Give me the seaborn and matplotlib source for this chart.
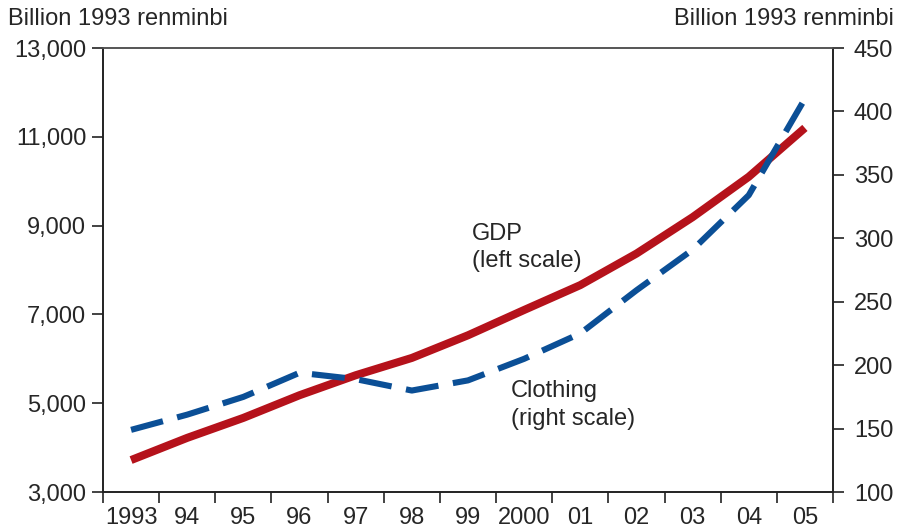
import numpy as np
import pandas as pd
import matplotlib
matplotlib.use("Agg")
import matplotlib.pyplot as plt
import seaborn as sns

# data
years = [1993, 1994, 1995, 1996, 1997, 1998, 1999, 2000, 2001, 2002, 2003, 2004, 2005]
year_labels = ["1993", "94", "95", "96", "97", "98", "99", "2000", "01", "02", "03", "04", "05"]
gdp = [3720, 4220, 4670, 5180, 5630, 6020, 6530, 7100, 7660, 8370, 9190, 10100, 11200]
clothing = [149, 161, 175, 194, 189, 180, 188, 205, 225, 259, 291, 334, 410]

df = pd.DataFrame({"idx": np.arange(len(years)), "gdp": gdp, "clothing": clothing})

sns.set_theme(style="white")
plt.rcParams["font.family"] = ["Liberation Sans", "DejaVu Sans"]

RED = "#b5121b"
BLUE = "#0b4f96"
FS = 17

fig = plt.figure(figsize=(8.98, 5.31), dpi=100)
ax = fig.add_axes([0.1147, 0.0734, 0.8129, 0.8362])
ax2 = ax.twinx()

sns.lineplot(data=df, x="idx", y="gdp", ax=ax, color=RED, lw=5.8,
             solid_capstyle="butt", zorder=3)
sns.lineplot(data=df, x="idx", y="clothing", ax=ax2, color=BLUE, lw=4.4,
             linestyle=(0, (5.4, 2.4)), dash_capstyle="butt")

ax.set_xlim(-0.5, len(years) - 0.5)
ax.set_ylim(3000, 13000)
ax2.set_ylim(100, 450)
ax.set_yticks(np.arange(3000, 13001, 2000))
ax.set_yticklabels([f"{v:,}" for v in range(3000, 13001, 2000)])
ax2.set_yticks(np.arange(100, 451, 50))

# ticks at year boundaries, labels centred in between
ax.set_xticks(np.arange(-0.5, len(years), 1.0))
ax.set_xticklabels([])
ax.set_xticks(np.arange(len(years)), minor=True)
ax.set_xticklabels(year_labels, minor=True)
ax.tick_params(axis="x", which="major", length=8, width=1.2, color="#222222", direction="out", bottom=True)
ax.tick_params(axis="x", which="minor", length=0, pad=11, labelsize=FS)
ax.tick_params(axis="y", length=8, width=1.2, color="#222222", direction="out", left=True, labelsize=FS, pad=4)
ax2.tick_params(axis="y", length=8, width=1.2, color="#222222", direction="out", right=True, labelsize=FS, pad=7)

ax.set_xlabel("")
ax.set_ylabel("")
ax2.set_ylabel("")
for a in (ax, ax2):
    for s in a.spines.values():
        s.set_linewidth(1.2)
        s.set_color("#222222")
    a.spines["top"].set_color("#555555")
    a.grid(False)

fig.text(0.009, 0.964, "Billion 1993 renminbi", fontsize=FS, ha="left", va="center")
fig.text(0.995, 0.964, "Billion 1993 renminbi", fontsize=FS, ha="right", va="center")

ax.text(6.07, 8500, "GDP\n(left scale)", fontsize=FS, ha="left", va="center", linespacing=1.3)
ax.text(6.77, 4960, "Clothing\n(right scale)", fontsize=FS, ha="left", va="center", linespacing=1.3)

fig.savefig("out.png", dpi=100)
